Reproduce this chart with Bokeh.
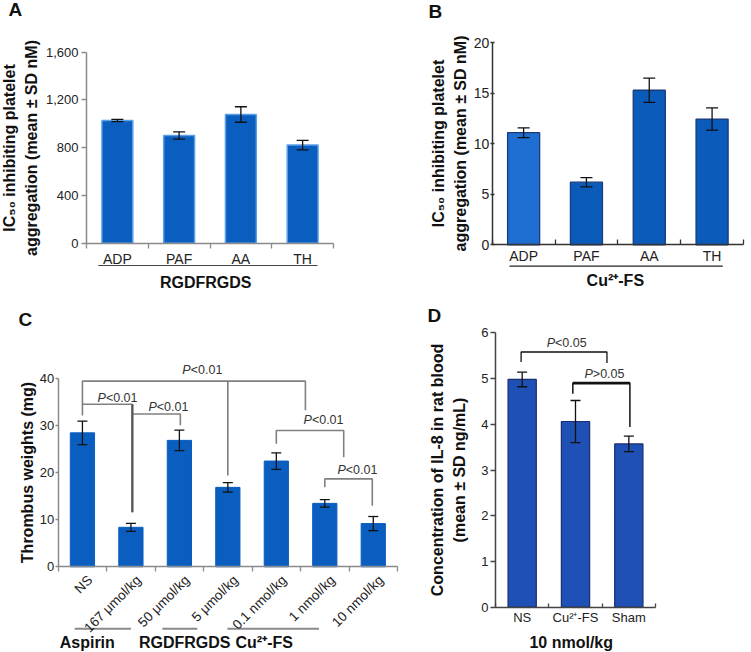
import math
from bokeh.plotting import figure
from bokeh.models import (Range1d, LinearAxis, FixedTicker, NumeralTickFormatter,
                          Whisker, TeeHead, ColumnDataSource, Label)
from bokeh.layouts import column, row
from bokeh.embed import file_html
from bokeh.resources import INLINE
from bokeh.core.properties import value

# ---------------- data ----------------
A_CATS = ["ADP", "PAF", "AA", "TH"]
A_MEAN = [1028, 902, 1078, 822]
A_SD = [10, 30, 65, 40]
A_GROUP = "RGDFRGDS"
A_YTICKS = [0, 400, 800, 1200, 1600]

B_CATS = ["ADP", "PAF", "AA", "TH"]
B_MEAN = [11.1, 6.2, 15.3, 12.45]
B_SD = [0.48, 0.46, 1.2, 1.1]
B_GROUP = "Cu²⁺-FS"
B_YTICKS = [0, 5, 10, 15, 20]

C_CATS = ["NS", "167 μmol/kg", "50 μmol/kg", "5 μmol/kg",
          "0.1 nmol/kg", "1 nmol/kg", "10 nmol/kg"]
C_MEAN = [28.5, 8.4, 26.9, 16.9, 22.5, 13.5, 9.2]
C_SD = [2.5, 0.85, 2.2, 1.0, 1.75, 0.8, 1.5]
C_GROUPS = ["Aspirin", "RGDFRGDS", "Cu²⁺-FS"]
C_YTICKS = [0, 10, 20, 30, 40]
C_PTEXT = ["<0.01", "<0.01", "<0.01", "<0.01", "<0.01"]

D_CATS = ["NS", "Cu²⁺-FS", "Sham"]
D_MEAN = [4.98, 4.06, 3.57]
D_SD = [0.16, 0.46, 0.17]
D_GROUP = "10 nmol/kg"
D_YTICKS = [0, 1, 2, 3, 4, 5, 6]
D_PTEXT = ["<0.05", ">0.05"]

# ---------------- annotation geometry (category units / value units) ----------------
# bracket: (x_left, x_right, y_bar, y_left_end, y_right_end)
C_BRACKETS = [(0.5, 5.1, 39.5, 32.2, 33.3),
              (0.5, 1.53, 34.6, 34.6, 11.6),
              (1.52, 2.52, 32.5, 32.5, 30.1),
              (4.5, 5.89, 29.0, 26.2, 23.3),
              (5.5, 6.48, 18.7, 16.9, 13.0)]
C_DROP = (3.5, 39.5, 19.4)
C_PPOS = [(2.97, 41.8), (1.22, 36.0), (2.27, 34.0), (5.47, 31.3), (6.17, 20.6)]
C_ULINES = [(0.34, 1.5), (2.15, 2.87), (3.49, 5.38)]
C_GPOS = [0.6, 2.61, 4.25]

D_BRACKETS = [(0.48, 2.09, 5.58, 5.36, 5.34),
              (1.45, 2.52, 4.90, 4.67, 3.94)]
D_PPOS = [(1.33, 5.77), (2.04, 5.10)]

FONT = "Liberation Sans"


def lin(pa, va, pb, vb, size, vertical=False):
    k = (vb - va) / (pb - pa)
    v0 = va + (0 - pa) * k
    v1 = va + (size - pa) * k
    return Range1d(start=v1, end=v0) if vertical else Range1d(start=v0, end=v1)


def base_fig(w, h, xr, yr):
    p = figure(width=w, height=h, x_range=xr, y_range=yr,
               x_axis_type=None, y_axis_type=None,
               output_backend="svg", toolbar_location=None,
               min_border=0, outline_line_color=None)
    return p


def add_axes(p, cats, yticks, label, axis_color, tick_in, tick_out,
             xlab_size="13.5px", ylab_size="13px", ylab_standoff=6,
             orient="horizontal", fmt=None, xlab_standoff=3, label_shift=0.0,
             ytick_in=0, ytick_out=4, ytick_standoff=2):
    n = len(cats)
    xax = LinearAxis(fixed_location=0, bounds=(0, n),
                     ticker=FixedTicker(ticks=[i + 0.5 + label_shift for i in range(n)],
                                        minor_ticks=list(range(n + 1))),
                     major_label_overrides={i + 0.5 + label_shift: c
                                            for i, c in enumerate(cats)})
    xax.major_tick_in = 0
    xax.major_tick_out = 0
    xax.minor_tick_in = tick_in
    xax.minor_tick_out = tick_out
    xax.minor_tick_line_color = axis_color
    xax.minor_tick_line_width = 1.3
    xax.axis_line_color = axis_color
    xax.axis_line_width = 1.5
    xax.major_label_text_font = FONT
    xax.major_label_text_font_size = xlab_size
    xax.major_label_text_color = "#222222"
    xax.major_label_standoff = xlab_standoff
    xax.major_label_orientation = orient
    p.add_layout(xax, "below")

    yax = LinearAxis(fixed_location=0, bounds=(yticks[0], yticks[-1]),
                     ticker=FixedTicker(ticks=yticks, minor_ticks=[]),
                     axis_label=label)
    if fmt is not None:
        yax.formatter = fmt
    yax.major_tick_in = ytick_in
    yax.major_tick_out = ytick_out
    yax.major_tick_line_color = axis_color
    yax.major_tick_line_width = 1.3
    yax.axis_line_color = axis_color
    yax.axis_line_width = 1.5
    yax.major_label_text_font = FONT
    yax.major_label_text_font_size = ylab_size
    yax.major_label_text_color = "#222222"
    yax.major_label_standoff = ytick_standoff
    yax.axis_label_text_font = FONT
    yax.axis_label_text_font_style = "bold"
    yax.axis_label_text_font_size = "16px"
    yax.axis_label_text_color = "#111111"
    yax.axis_label_standoff = ylab_standoff
    yax.axis_label_text_line_height = 1.3
    p.add_layout(yax, "left")


def add_bars(p, means, sds, width, fill, line, line_w, cap=12):
    n = len(means)
    src = ColumnDataSource(dict(x=[i + 0.5 for i in range(n)], top=means,
                                upper=[m + s for m, s in zip(means, sds)],
                                lower=[m - s for m, s in zip(means, sds)],
                                fill=fill))
    p.vbar(x="x", top="top", width=width, source=src, fill_color="fill",
           line_color=line, line_width=line_w)
    w = Whisker(base="x", upper="upper", lower="lower", source=src, level="overlay",
                line_color="#111111", line_width=1.3,
                upper_head=TeeHead(size=cap, line_color="#111111", line_width=1.3),
                lower_head=TeeHead(size=cap, line_color="#111111", line_width=1.3))
    p.add_layout(w)


def add_letter(p, text, x, y_from_top, h):
    p.add_layout(Label(x=x, y=h - y_from_top, x_units="screen", y_units="screen",
                       text=text, text_font=FONT, text_font_style="bold",
                       text_font_size="19px", text_baseline="top",
                       text_color="#111111"))


def add_p(p, xs, ys, texts, color, fs=12.5):
    pw = 0.667 * fs
    offs = [-(pw + len(t) * 0.5 * fs) / 2 + pw for t in texts]
    src = ColumnDataSource(dict(x=xs, y=ys, t=texts, P=["P"] * len(texts), o=offs))
    p.text(x="x", y="y", text="P", x_offset="o", source=src, text_align="right",
           text_baseline="middle", text_font=value(FONT), text_font_style="italic",
           text_font_size=f"{fs}px", text_color=color)
    p.text(x="x", y="y", text="t", x_offset="o", source=src, text_align="left",
           text_baseline="middle", text_font=value(FONT),
           text_font_size=f"{fs}px", text_color=color)


def bracket_lines(brackets):
    xs, ys = [], []
    for xl, xr, yb, yl, yr in brackets:
        xs.append([xl, xl, xr, xr])
        ys.append([yl, yb, yb, yr])
    return xs, ys


def group_text(p, xs, ys, texts):
    p.text(x=xs, y=ys, text=texts, text_align="center", text_baseline="middle",
           text_font=value(FONT), text_font_style="bold", text_font_size="16px",
           text_color="#111111")


# ---------------- panel A ----------------
WA, HA = 375, 300
pA = base_fig(WA, HA, lin(86, 0, 333, 4, WA), lin(242.7, 0, 51.7, 1600, HA, True))
add_axes(pA, A_CATS, A_YTICKS, "IC₅₀ inhibiting platelet\naggregation (mean ± SD nM)",
         "#8a8a8a", 0, 5, xlab_size="14px", ylab_size="13px",
         fmt=NumeralTickFormatter(format="0,0"), ylab_standoff=3,
         ytick_out=5, ytick_standoff=3)
add_bars(pA, A_MEAN, A_SD, 0.5, ["#0a5ec0"] * 4, "#5d9fe4", 1.5)
pA.segment(x0=[0.19], y0=[-187], x1=[3.74], y1=[-187], line_color="#444444", line_width=1.2)
group_text(pA, [1.93], [-329], [A_GROUP])
add_letter(pA, "A", 8, -2, HA)

# ---------------- panel B ----------------
WB, HB = 376, 300
pB = base_fig(WB, HB, lin(116.7, 0, 368, 4, WB), lin(244.3, 0, 42.3, 20, HB, True))
add_axes(pB, B_CATS, B_YTICKS, "IC₅₀ inhibiting platelet\naggregation (mean ± SD nM)",
         "#333333", 5, 0, xlab_size="14px", ylab_size="14px", ylab_standoff=2,
         ytick_in=2, ytick_out=2, ytick_standoff=1)
add_bars(pB, B_MEAN, B_SD, 0.51, ["#1f6fd2", "#0b5bbb", "#0b5bbb", "#0b5bbb"], "#1b3a78", 1.3)
pB.segment(x0=[0.275], y0=[-2.12], x1=[3.67], y1=[-2.12], line_color="#222222", line_width=1.2)
group_text(pB, [1.96], [-3.53], [B_GROUP])
add_letter(pB, "B", 53, 0, HB)

# ---------------- panel C ----------------
WC, HC = 400, 352
pC = base_fig(WC, HC, lin(57.7, 0, 397, 7, WC), lin(266.3, 0, 78.3, 40, HC, True))
add_axes(pC, C_CATS, C_YTICKS, "Thrombus weights (mg)", "#8a8a8a", 0, 5,
         orient=math.pi / 4, ylab_standoff=1, xlab_standoff=6, label_shift=0.16,
         ytick_out=3, ytick_standoff=1)
add_bars(pC, C_MEAN, C_SD, 0.5, ["#0a5ec0"] * 7, "#0a5ec0", 1, cap=10)
bx, by = bracket_lines(C_BRACKETS)
pC.multi_line(xs=bx, ys=by, line_color="#808080", line_width=1.6)
pC.segment(x0=[C_DROP[0]], y0=[C_DROP[1]], x1=[C_DROP[0]], y1=[C_DROP[2]],
           line_color="#606060", line_width=1.3)
pC.segment(x0=[C_BRACKETS[1][1]], y0=[C_BRACKETS[1][2]], x1=[C_BRACKETS[1][1]],
           y1=[C_BRACKETS[1][4]], line_color="#555555", line_width=2.2)
add_p(pC, [q[0] for q in C_PPOS], [q[1] for q in C_PPOS], C_PTEXT, "#333333")
pC.segment(x0=[u[0] for u in C_ULINES], y0=[-13.2] * 3, x1=[u[1] for u in C_ULINES],
           y1=[-13.2] * 3, line_color="#8a8a8a", line_width=2)
group_text(pC, C_GPOS, [-16.2] * 3, C_GROUPS)
add_letter(pC, "C", 18, 8, HC)

# ---------------- panel D ----------------
WD, HD = 351, 352
pD = base_fig(WD, HD, lin(95, 0, 255, 3, WD), lin(306.7, 0, 32.3, 6, HD, True))
add_axes(pD, D_CATS, D_YTICKS, "Concentration of IL-8 in rat blood\n(mean ± SD ng/mL)",
         "#444444", 4, 0, xlab_size="13px", ylab_size="13px", ylab_standoff=10,
         ytick_out=5, ytick_standoff=2)
add_bars(pD, D_MEAN, D_SD, 0.53, ["#1f50b5"] * 3, "#1a2e6e", 1.2, cap=10)
dx, dy = bracket_lines(D_BRACKETS)
pD.multi_line(xs=[dx[0]], ys=[dy[0]], line_color="#111111", line_width=1.3)
pD.multi_line(xs=[dx[1]], ys=[dy[1]], line_color="#111111", line_width=1.5)
pD.segment(x0=[D_BRACKETS[1][0]], y0=[D_BRACKETS[1][2]], x1=[D_BRACKETS[1][1]],
           y1=[D_BRACKETS[1][2]], line_color="#111111", line_width=2.6)
add_p(pD, [q[0] for q in D_PPOS], [q[1] for q in D_PPOS], D_PTEXT, "#333333")
group_text(pD, [1.42], [-0.77], [D_GROUP])
add_letter(pD, "D", 27, 4.5, HD)

layout = column(row(pA, pB, spacing=0), row(pC, pD, spacing=0), spacing=0)
open("out.html", "w").write(file_html(layout, INLINE))
